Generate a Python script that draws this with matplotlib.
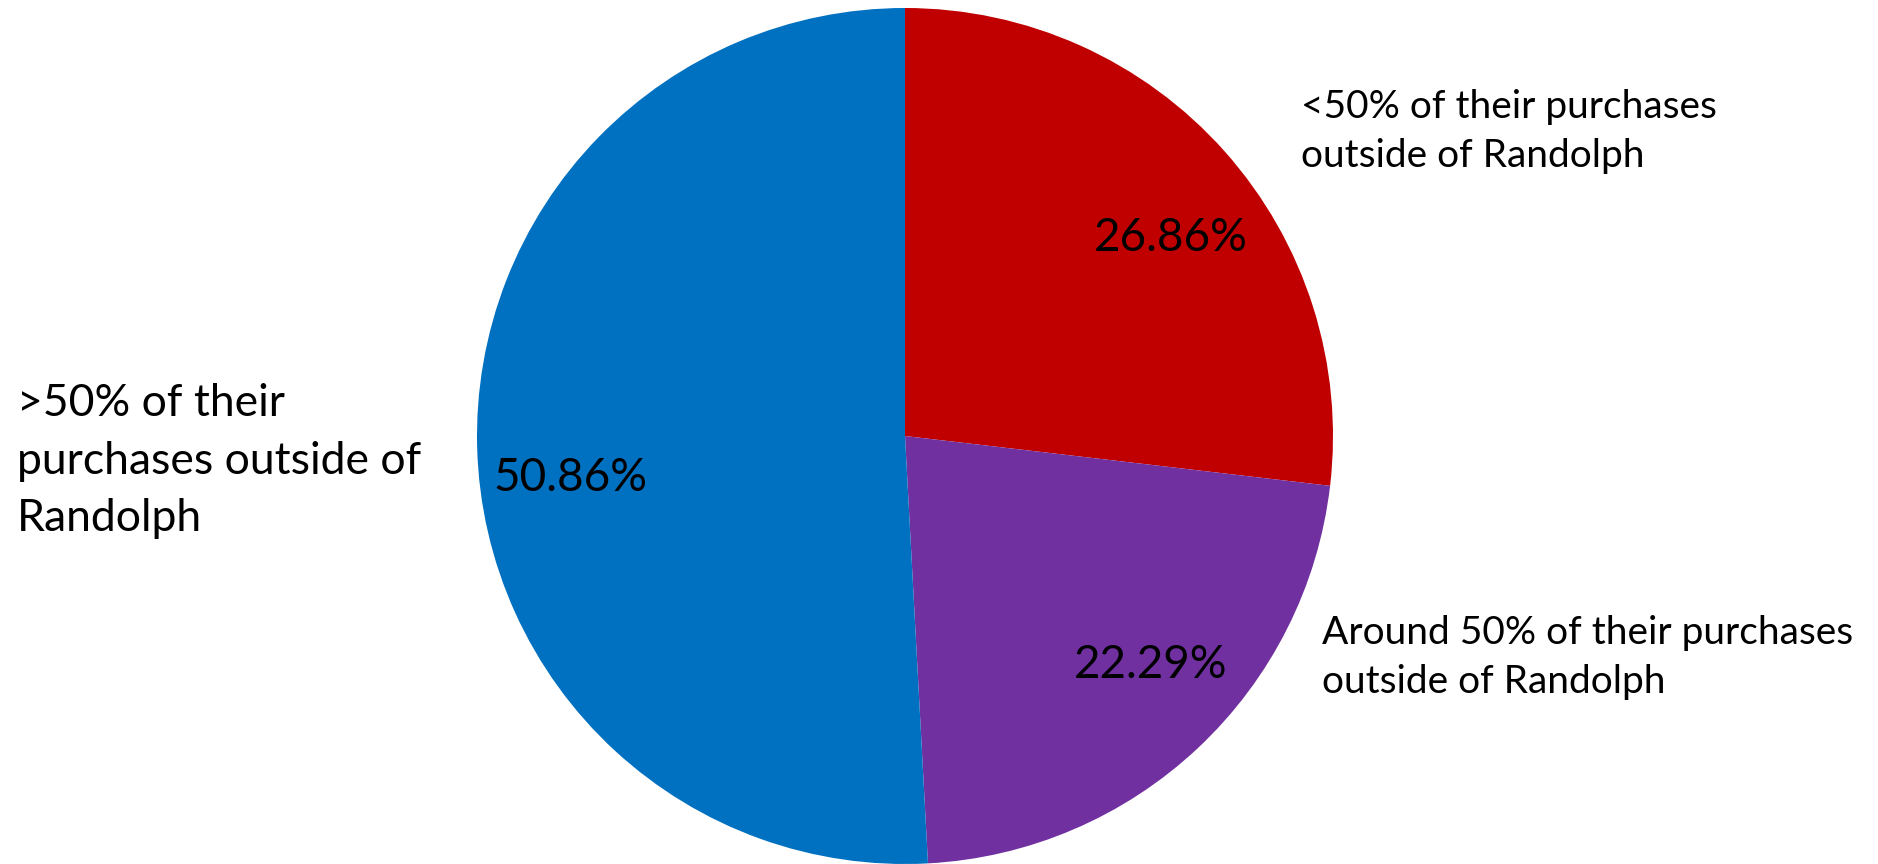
import matplotlib.pyplot as plt

# share of residents by how much of their shopping happens outside Randolph
categories = [
    "<50% of their purchases\noutside of Randolph",
    "Around 50% of their purchases\noutside of Randolph",
    ">50% of their\npurchases outside of\nRandolph",
]
shares = [26.86, 22.29, 50.86]
slice_colors = ["#C00000", "#7030A0", "#0070C0"]

W, H = 1878, 864
plt.rcParams["font.family"] = ["Lato", "DejaVu Sans"]

fig = plt.figure(figsize=(W / 100, H / 100), dpi=100)
ax = fig.add_axes([0, 0, 1, 1])

cx, cy, r = 905, H - 436, 428
ax.pie(
    shares,
    colors=slice_colors,
    startangle=90,
    counterclock=False,
    center=(cx, cy),
    radius=r,
    frame=True,
)
ax.set_xlim(0, W)
ax.set_ylim(0, H)
ax.set_aspect("equal")
ax.axis("off")

# value labels inside each slice
value_pos = [(1171, H - 238), (1151, H - 665), (570, H - 478)]
for v, (x, y) in zip(shares, value_pos):
    ax.text(x, y, f"{v:.2f}%", ha="center", va="center", fontsize=33, color="black")

# category labels outside the pie: (x, top, fontsize, linespacing)
cat_pos = [(1301, H - 89, 28, 1.45), (1322, H - 615, 28, 1.45), (17, H - 383, 32, 1.5)]
for text, (x, y, fs, ls) in zip(categories, cat_pos):
    ax.text(x, y, text, ha="left", va="top", fontsize=fs, color="black",
            linespacing=ls)

fig.savefig("out.png", dpi=100)
